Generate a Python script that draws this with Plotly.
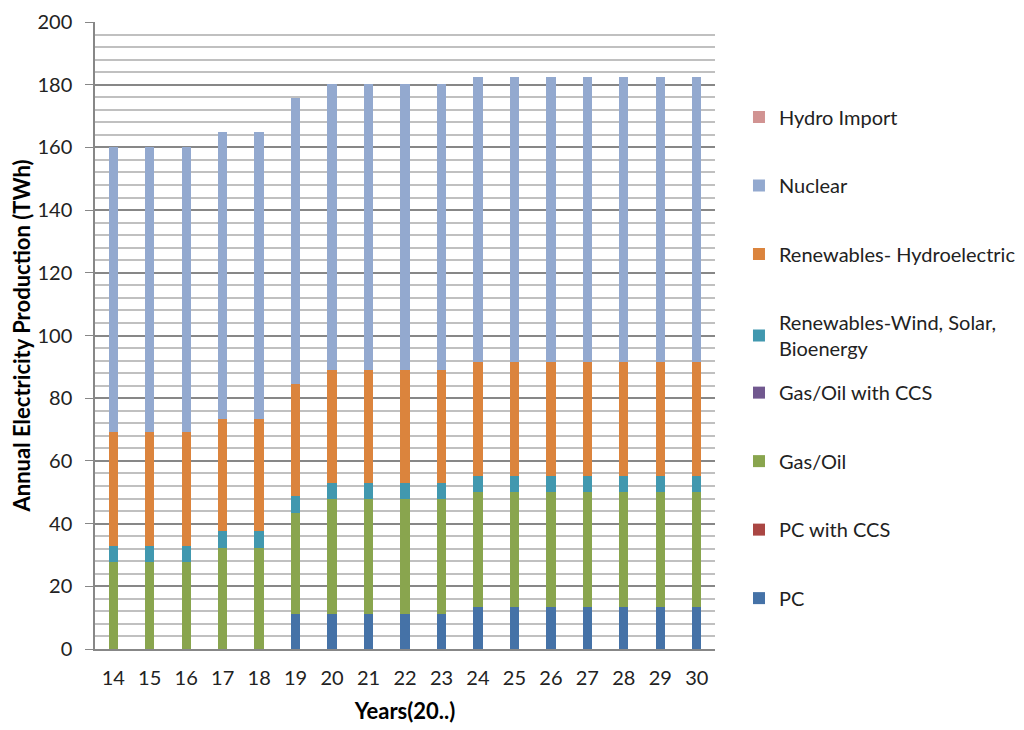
import plotly.graph_objects as go

years = ["14", "15", "16", "17", "18", "19", "20", "21", "22", "23", "24", "25", "26", "27", "28", "29", "30"]

pc = [0, 0, 0, 0, 0, 11.2, 11.2, 11.2, 11.2, 11.2, 13.4, 13.4, 13.4, 13.4, 13.4, 13.4, 13.4]
pc_ccs = [0] * 17
gas_oil = [27.9, 27.9, 27.9, 32.3, 32.3, 32.2, 36.6, 36.6, 36.6, 36.6, 36.6, 36.6, 36.6, 36.6, 36.6, 36.6, 36.6]
gas_oil_ccs = [0] * 17
wind_solar_bio = [5.1, 5.1, 5.1, 5.2, 5.2, 5.3, 5.1, 5.1, 5.1, 5.1, 5.2, 5.2, 5.2, 5.2, 5.2, 5.2, 5.2]
hydro = [36.2, 36.2, 36.2, 36.0, 36.0, 35.9, 36.2, 36.2, 36.2, 36.2, 36.2, 36.2, 36.2, 36.2, 36.2, 36.2, 36.2]
nuclear = [91.0, 91.0, 91.0, 91.3, 91.3, 91.2, 91.2, 91.2, 91.2, 91.2, 91.0, 91.0, 91.0, 91.0, 91.0, 91.0, 91.0]
hydro_import = [0] * 17

# (name, values, colour, legend box)
series = [
    ("PC", pc, "#4572A7", "legend2"),
    ("PC with CCS", pc_ccs, "#AA4643", "legend2"),
    ("Gas/Oil", gas_oil, "#89A54E", "legend2"),
    ("Gas/Oil with CCS", gas_oil_ccs, "#71588F", "legend2"),
    ("Renewables-Wind, Solar,<br>Bioenergy", wind_solar_bio, "#4198AF", "legend"),
    ("Renewables- Hydroelectric", hydro, "#DB843D", "legend"),
    ("Nuclear", nuclear, "#93A9CF", "legend"),
    ("Hydro Import", hydro_import, "#D19392", "legend"),
]

fig = go.Figure()
n = len(series)
for i, (name, vals, color, leg) in enumerate(series):
    fig.add_trace(go.Bar(
        x=years, y=vals, name=name, marker=dict(color=color, line=dict(width=0)),
        legendgroup=str(i), legendrank=n - i, legend=leg,
    ))

font_family = "Lato, 'Open Sans', sans-serif"
leg_common = dict(
    traceorder="grouped", tracegroupgap=39.5,
    xanchor="left", yanchor="top",
    font=dict(size=20, color="#222222"),
    itemwidth=30, bgcolor="rgba(0,0,0,0)",
)

fig.update_layout(
    width=1024, height=730,
    barmode="stack", bargap=0.745,
    plot_bgcolor="white", paper_bgcolor="white",
    margin=dict(l=87, r=316, t=14, b=89),
    font=dict(family=font_family, size=20, color="#222222"),
    legend=dict(x=1.037, y=0.8796, **leg_common),
    legend2=dict(x=1.037, y=0.44, **leg_common),
    showlegend=True,
)

fig.update_yaxes(
    range=[0, 200], tickvals=[0, 20, 40, 60, 80, 100, 120, 140, 160, 180, 200],
    showgrid=True, gridcolor="#878787", gridwidth=1.5,
    minor=dict(dtick=4, showgrid=True, gridcolor="#c0c0c0", gridwidth=1.8),
    showline=True, linecolor="#878787", linewidth=1.5,
    ticks="outside", ticklen=8, tickcolor="#878787",
    ticklabelstandoff=9, ticklabeloverflow="allow",
    zeroline=False, automargin=False,
    tickfont=dict(size=20, color="#222222"),
    title=dict(text="<b>Annual Electricity Production (TWh)</b>", font=dict(size=22, color="#000000"), standoff=12),
)
fig.update_xaxes(
    showline=True, linecolor="#878787", linewidth=1.5,
    ticks="outside", ticklen=10, tickcolor="rgba(0,0,0,0)", showgrid=False,
    automargin=False, ticklabeloverflow="allow",
    tickfont=dict(size=20, color="#222222"),
    title=dict(text="<b>Years(20..)</b>", font=dict(size=22, color="#000000"), standoff=16),
)

fig.write_html("out.html")
